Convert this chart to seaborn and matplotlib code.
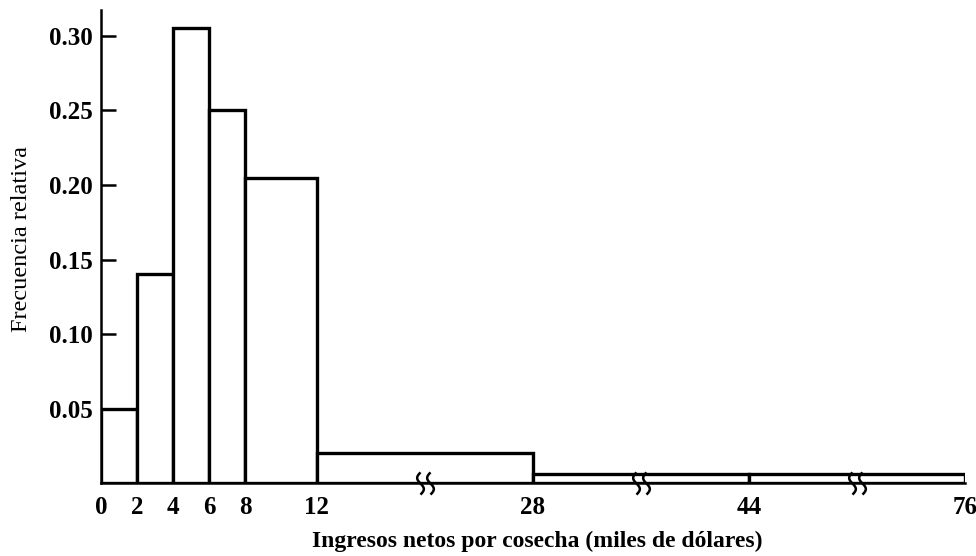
import numpy as np
import seaborn as sns
import matplotlib.pyplot as plt
from matplotlib.path import Path

# ---------- data ----------
bin_edges = [0, 2, 4, 6, 8, 12, 28, 44, 76]
rel_freq = [0.05, 0.14, 0.305, 0.25, 0.205, 0.02, 0.006, 0.006]
x_ticks = [0, 2, 4, 6, 8, 12, 28, 44, 76]
y_ticks = [0.05, 0.10, 0.15, 0.20, 0.25, 0.30]
axis_breaks = [20, 36, 60]   # where the x axis is broken

# broken x axis: each long interval gets the same room on the page
scale_knots = [0, 12, 28, 44, 76]
page_knots = [0, 12, 24, 36, 48]

def fwd(v):
    return np.interp(v, scale_knots, page_knots)

def inv(v):
    return np.interp(v, page_knots, scale_knots)

sns.set_style("white")
plt.rcParams['font.family'] = ['Liberation Serif', 'DejaVu Serif']
plt.rcParams['text.color'] = 'black'
plt.rcParams['axes.labelcolor'] = 'black'
plt.rcParams['xtick.color'] = 'black'
plt.rcParams['ytick.color'] = 'black'

fig = plt.figure(figsize=(9.76, 5.56), dpi=100)
ax = fig.add_axes([0.1035, 0.131, 0.885, 0.851])

mids = [(a + b) / 2 for a, b in zip(bin_edges[:-1], bin_edges[1:])]
sns.histplot(x=mids, weights=rel_freq, bins=bin_edges, stat="count",
             color="white", edgecolor="black", linewidth=2.4, alpha=1, ax=ax)

ax.set_xscale("function", functions=(fwd, inv))
ax.set_xlim(0, 76)
ax.set_ylim(0, 0.3174)

# squiggle marker for the axis breaks
t = np.linspace(0, 1, 30)
curve = []
codes = []
for off in (-0.45, 0.45):
    pts = np.column_stack([off - 0.3 * np.sin(2 * np.pi * t), 1 - 2 * t])
    curve.extend(pts.tolist())
    codes.extend([Path.MOVETO] + [Path.LINETO] * (len(t) - 1))
squiggle = Path(curve, codes)
ax.plot(axis_breaks, [0] * len(axis_breaks), linestyle="none", marker=squiggle,
        markersize=16, markerfacecolor="none", markeredgecolor="black",
        markeredgewidth=1.8, clip_on=False, zorder=5)

ax.set_xticks(x_ticks)
ax.set_xticklabels([str(v) for v in x_ticks], fontsize=18, fontweight="bold")
ax.set_yticks(y_ticks)
ax.set_yticklabels([f"{v:.2f}" for v in y_ticks], fontsize=18, fontweight="bold")
ax.tick_params(axis="x", length=0, pad=9)
ax.tick_params(axis="y", direction="in", length=11, width=1.8, pad=6, left=True)

sns.despine(ax=ax)
for side in ("left", "bottom"):
    ax.spines[side].set_linewidth(1.8)
    ax.spines[side].set_color("black")

ax.set_ylabel("Frecuencia relativa", fontsize=17.5, labelpad=12)
ax.yaxis.label.set_y(0.515)
ax.set_xlabel("Ingresos netos por cosecha (miles de dólares)", fontsize=17,
              fontweight="bold", labelpad=9)
ax.xaxis.label.set_x(0.505)

fig.savefig("out.png", dpi=100)
